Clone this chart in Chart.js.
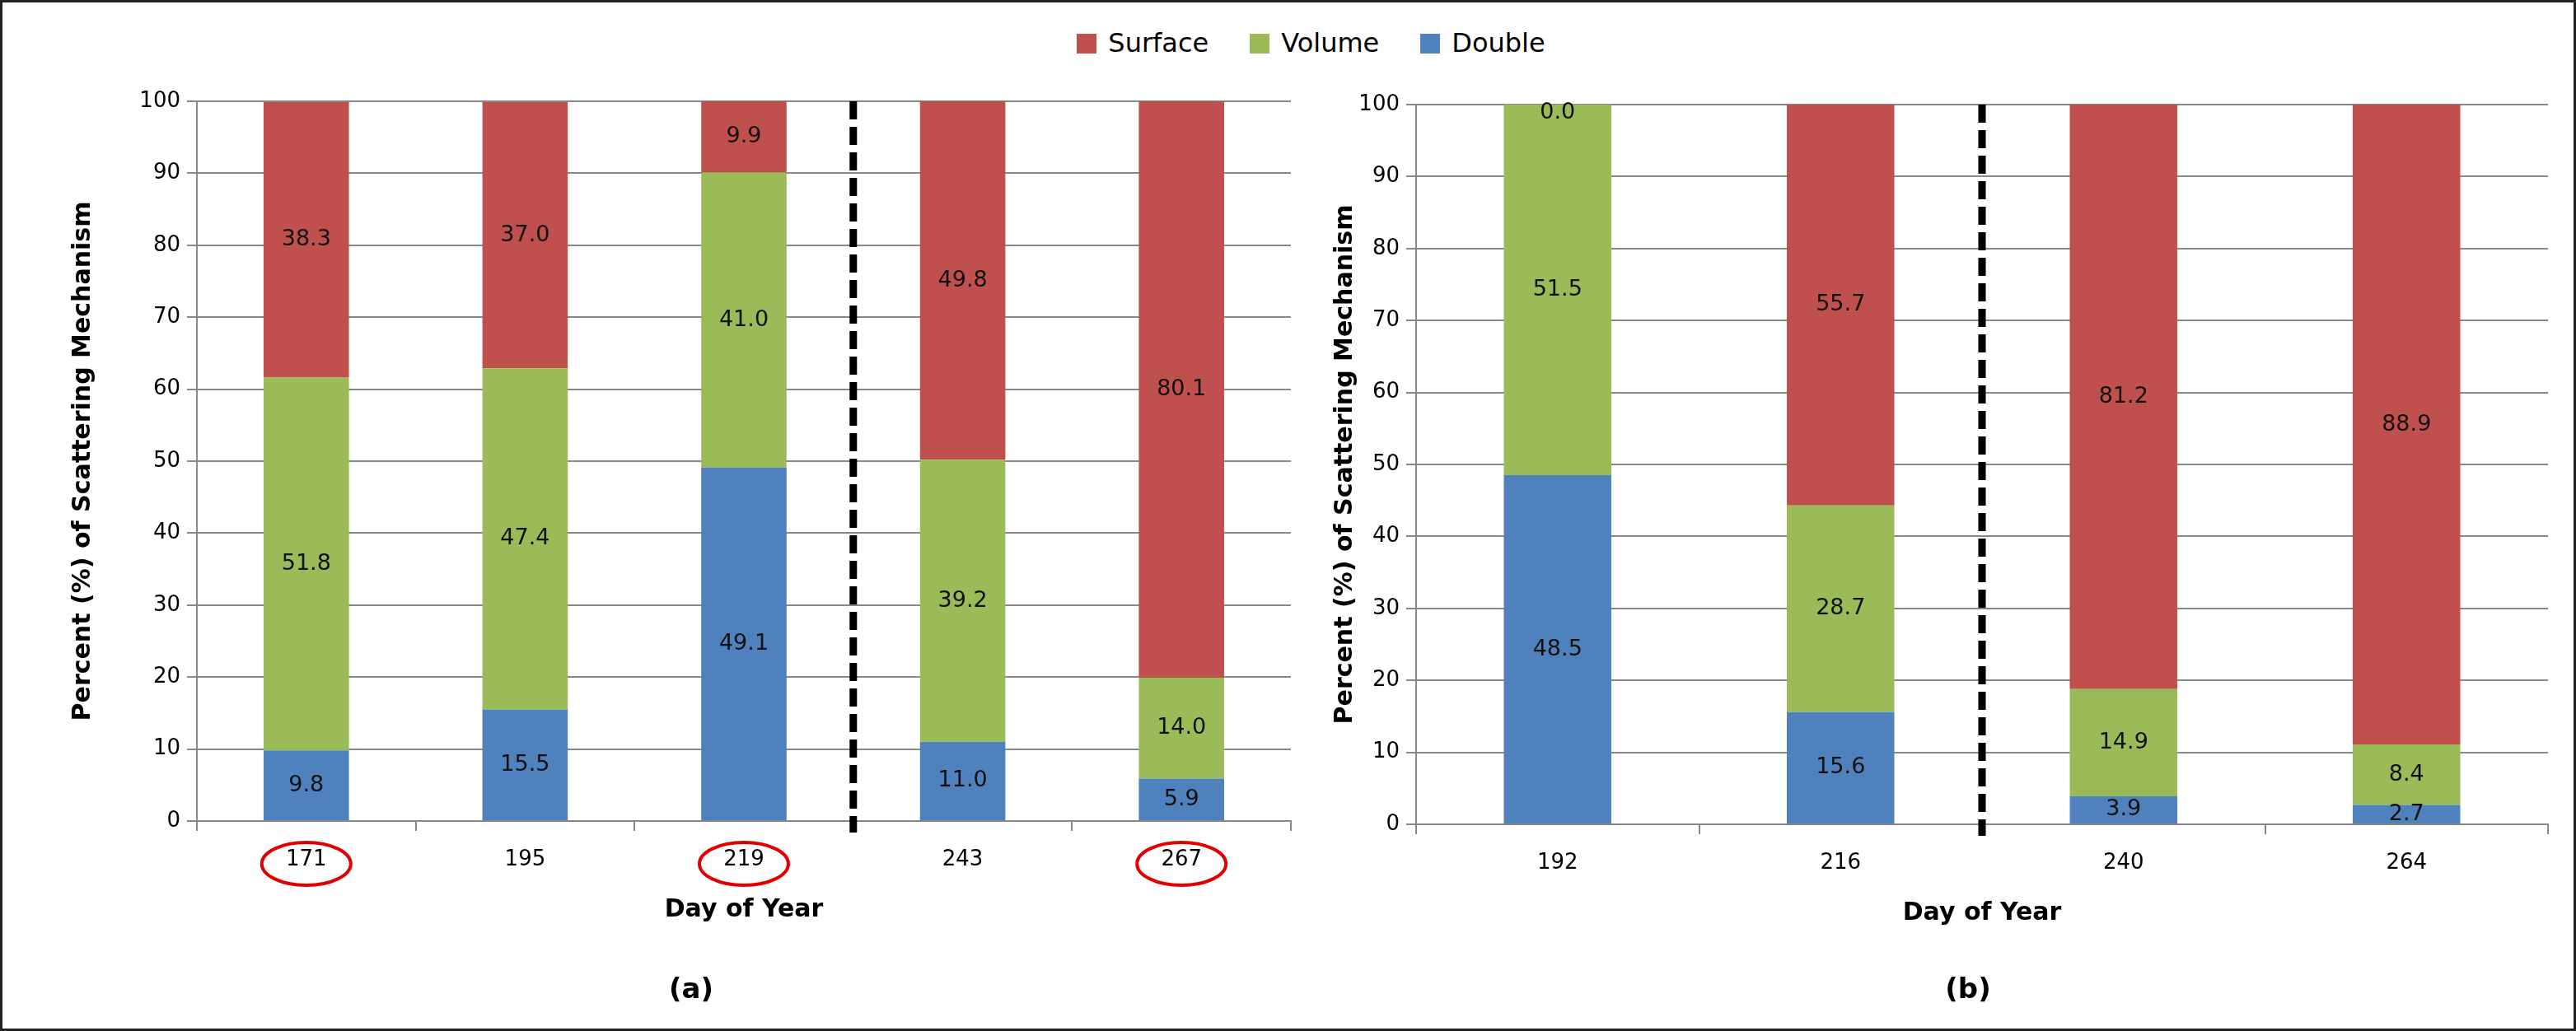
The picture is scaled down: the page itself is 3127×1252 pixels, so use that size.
<!DOCTYPE html>
<html><head><meta charset="utf-8">
<script src="https://cdn.jsdelivr.net/npm/chart.js@4"></script>
<style>
body{margin:0;background:#fff;}
#page{position:relative;width:3127px;height:1252px;box-sizing:border-box;border:3px solid #222;font-family:"DejaVu Sans",sans-serif;}
canvas{position:absolute;top:0;}
#legend{position:absolute;top:30px;left:0;width:3127px;text-align:center;font-size:32px;}
#legend span.k{display:inline-block;width:24px;height:24px;margin:0 14px 0 50px;vertical-align:-2px;}
</style></head>
<body>
<div id="page">
<div id="legend"><span class="k" style="background:#C0504D"></span>Surface<span class="k" style="background:#9BBB59"></span>Volume<span class="k" style="background:#4F81BD"></span>Double</div>
<canvas id="ca" style="left:0"></canvas>
<canvas id="cb" style="left:1600px"></canvas>
</div>
<script>
const daysA = ["171", "195", "219", "243", "267"];
const doubleA = [9.8, 15.5, 49.1, 11.0, 5.9];
const volumeA = [51.8, 47.4, 41.0, 39.2, 14.0];
const surfaceA = [38.3, 37.0, 9.9, 49.8, 80.1];
const circledA = [0, 2, 4];

const daysB = ["192", "216", "240", "264"];
const doubleB = [48.5, 15.6, 3.9, 2.7];
const volumeB = [51.5, 28.7, 14.9, 8.4];
const surfaceB = [0.0, 55.7, 81.2, 88.9];
const circledB = [];

const FONT = "DejaVu Sans";

const extras = {
  id: "extras",
  afterDatasetsDraw(chart, args, o) {
    const ctx = chart.ctx, x = chart.scales.x, y = chart.scales.y;
    ctx.save();
    // value labels
    ctx.font = "27px " + FONT;
    ctx.fillStyle = "#111";
    ctx.textAlign = "center";
    ctx.textBaseline = "middle";
    chart.data.datasets.forEach((ds, di) => {
      chart.getDatasetMeta(di).data.forEach((bar, i) => {
        const v = ds.data[i];
        const yc = v < 1 ? bar.y + 10 : (bar.y + bar.base) / 2;
        ctx.fillText(v.toFixed(1), bar.x, yc);
      });
    });
    // dashed separator
    const xd = (x.getPixelForValue(o.sep - 0.5) + x.getPixelForValue(o.sep + 0.5)) / 2;
    ctx.strokeStyle = "#000";
    ctx.lineWidth = 9;
    ctx.setLineDash([22, 9]);
    ctx.beginPath();
    ctx.moveTo(xd, y.top);
    ctx.lineTo(xd, y.bottom + 14);
    ctx.stroke();
    ctx.setLineDash([]);
    // circles around labels
    ctx.strokeStyle = "#E00000";
    ctx.lineWidth = 4;
    o.circled.forEach(i => {
      ctx.beginPath();
      ctx.ellipse(x.getPixelForValue(i), y.bottom + 52, 54, 26, 0, 0, Math.PI * 2);
      ctx.stroke();
    });
    // panel caption
    ctx.fillStyle = "#000";
    ctx.font = "bold 34px " + FONT;
    ctx.fillText(o.caption, o.capX, 1200);
    ctx.restore();
  }
};

function make(id, w, days, dbl, vol, sur, sep, circled, caption, capX, pad, yW, barPct) {
  const c = document.getElementById(id);
  c.width = w; c.height = 1252;
  c.style.width = w + "px"; c.style.height = "1252px";
  new Chart(c, {
    type: "bar",
    data: {
      labels: days,
      datasets: [
        { label: "Double", data: dbl, backgroundColor: "#4F81BD" },
        { label: "Volume", data: vol, backgroundColor: "#9BBB59" },
        { label: "Surface", data: sur, backgroundColor: "#C0504D" }
      ]
    },
    options: {
      responsive: false, animation: false,
      devicePixelRatio: 1,
      categoryPercentage: 1, barPercentage: barPct,
      layout: { padding: pad },
      plugins: { legend: { display: false }, tooltip: { enabled: false },
        extras: { sep, circled, caption, capX } },
      scales: {
        x: {
          stacked: true,
          grid: { display: true, drawOnChartArea: false, offset: true, color: "#888", lineWidth: 2, tickLength: 12 },
          border: { color: "#888", width: 2 },
          ticks: { color: "#000", font: { family: FONT, size: 26 }, padding: 20 },
          title: { display: true, text: "Day of Year", color: "#000", font: { family: FONT, size: 30, weight: "bold" } },
          afterFit: s => { s.height = 130; }
        },
        y: {
          stacked: true, min: 0, max: 100,
          grid: { color: "#888", lineWidth: 2, tickLength: 12 },
          border: { color: "#888", width: 2 },
          ticks: { stepSize: 10, color: "#000", font: { family: FONT, size: 26 }, padding: 8 },
          title: { display: true, text: "Percent (%) of Scattering Mechanism", color: "#000", font: { family: FONT, size: 30, weight: "bold" } },
          afterFit: s => { s.width = yW; }
        }
      }
    },
    plugins: [extras]
  });
}

make("ca", 1600, daysA, doubleA, volumeA, surfaceA, 2.5, circledA, "(a)", 836,
  { top: 120, right: 36, bottom: 128, left: 76 }, 160, 0.39);
make("cb", 1527, daysB, doubleB, volumeB, surfaceB, 1.5, circledB, "(b)", 786,
  { top: 124, right: 37, bottom: 124, left: 8 }, 108, 0.38);
</script>
</body></html>
